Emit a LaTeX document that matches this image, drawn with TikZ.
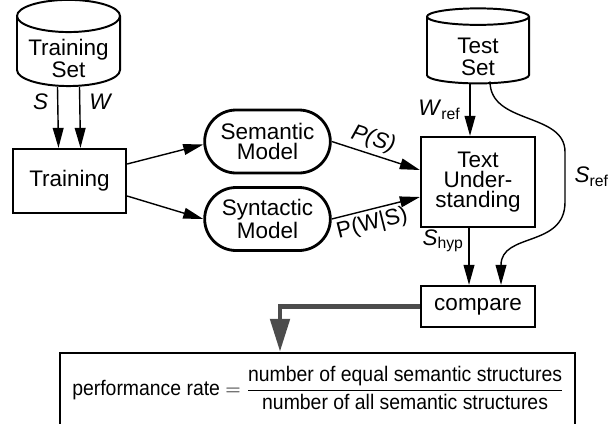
\documentclass[tikz,border=0pt]{standalone}
\usepackage{amsmath}
\usepackage{fontspec}
\setmainfont{Liberation Sans}
\newfontfamily\narrowfont[FakeStretch=0.92]{Liberation Sans}
\usetikzlibrary{shapes.geometric,shapes.misc,arrows.meta,calc}
\definecolor{bargray}{gray}{0.3}

\begin{document}
\begin{tikzpicture}[x=0.025cm,y=-0.025cm,
    font=\fontsize{16}{14.5}\selectfont, line width=1pt,
    >={Triangle[length=0.5cm,width=0.27cm]}]
	\tikzset{box/.style = {draw, line width=1.6pt, align=center, inner sep=0pt},
		dbase/.style = {cylinder, shape border rotate=90, aspect=0.4, draw, line width=1.4pt, align=center, inner sep=0pt},
		dbtext/.style = {align=center, font=\fontsize{16}{15.5}\selectfont},
		model/.style = {rounded rectangle, draw, line width=2pt, align=center, minimum width=3.375cm, minimum height=1.575cm},
		graybar/.style = {draw=bargray, line width=3.5pt, line join=miter, -{Triangle[length=0.825cm,width=0.475cm]}, bargray}}
	\useasboundingbox (0,0) rectangle (609,423);
	% data sets and boxes
	\node[dbase, minimum width=2.575cm, minimum height=1.925cm] (trainset) at (68.5,51.5) {\phantom{Training}\\\phantom{Set}};
	\node[dbtext] (trainsettext) at ($(trainset.center)+(0,7)$) {Training\\Set};
	\node[box, minimum width=2.825cm, minimum height=1.6cm] (train) at (69.5,181) {Training};
	\node[model] (sem) at (267.5,141.5) {Semantic\\Model};
	\node[model] (syn) at (267.5,219) {Syntactic\\Model};
	\node[dbase, minimum width=2.55cm, minimum height=1.875cm] (testset) at (478,50.5) {\phantom{Test}\\\phantom{Set}};
	\node[dbtext] (testsettext) at ($(testset.center)+(0,6)$) {Test\\Set};
	\node[box, minimum width=2.85cm, minimum height=2.25cm] (tu) at (478,182) {Text\\Under-\\standing};
	\node[box, minimum width=2.85cm, minimum height=1.025cm] (comp) at (478,306.5) {compare};
	\node[box, minimum width=12.875cm, minimum height=2.2cm] (ratebox) at (317.5,397) {};
	\node[font=\narrowfont\fontsize{15}{17}\selectfont] (rate) at (318,388)
		{performance rate $=\dfrac{\text{number of equal semantic structures}}{\text{number of all semantic structures}}$};
	% training
	\draw[->] ($(trainset.south)+(-11,0)$) -- ($(train.north)+(-11,0)$) node[pos=.25,left=3pt] {\textit{S}};
	\draw[->] ($(trainset.south)+(11,0)$) -- ($(train.north)+(11,0)$) node[pos=.25,right=3pt] {\textit{W}};
	\draw[->] ($(train.east)+(0,-17)$) -- ($(sem.west)+(0,3)$);
	\draw[->] ($(train.east)+(0,15)$) -- (syn.west);
	% test
	\draw[->] (sem.east) -- ($(tu.west)+(0,-12)$) node[pos=.42,above=-1pt,sloped] {\textit{P(S)}};
	\draw[->] (syn.east) -- ($(tu.west)+(0,15)$) node[pos=.42,below=-1pt,sloped] {P(W|S)};
	\draw[->] ($(testset.south)+(-8,0)$) -- ($(tu.north)+(-8,0)$) node[midway,left=3pt] {\textit{W}\textsubscript{ref}};
	\draw[->] ($(tu.south)+(-9,0)$) -- ($(comp.north)+(-9,0)$) node[pos=.22,left] {\textit{S}\textsubscript{hyp}};
	\coordinate (bend1) at (565,152);
	\coordinate (bend2) at (565,202);
	\draw[->] ($(testset.south)+(12,-3)$) .. controls (490,125) and (565,112) .. (bend1)
		-- (bend2) node[midway,right=3pt] {\textit{S}\textsubscript{ref}}
		.. controls (565,248) and (501,232) .. ($(comp.north)+(23,0)$);
	\draw[graybar] (comp.west) -| ($(ratebox.north)+(-37.5,0)$);
\end{tikzpicture}
\end{document}
